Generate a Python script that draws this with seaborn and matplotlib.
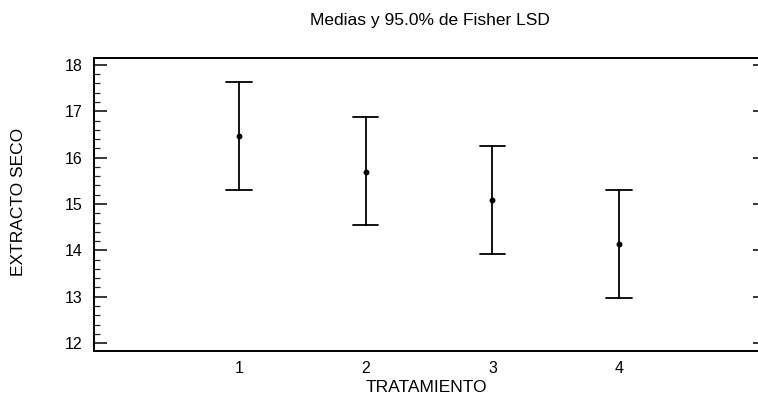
import numpy as np
import pandas as pd
import matplotlib
matplotlib.use("Agg")
import matplotlib.pyplot as plt
import seaborn as sns
from matplotlib.ticker import MultipleLocator

# Data
tratamiento = [1, 2, 3, 4]
medias = [16.47, 15.70, 15.09, 14.13]
lim_inf = [15.31, 14.54, 13.93, 12.97]
lim_sup = [17.64, 16.87, 16.25, 15.30]
y_ticks = [12, 13, 14, 15, 16, 17, 18]

titulo = "Medias y 95.0% de Fisher LSD"
x_label = "TRATAMIENTO"
y_label = "EXTRACTO SECO"

# long-format table: lower limit, mean, upper limit for each treatment
df = pd.DataFrame({
    "TRATAMIENTO": tratamiento * 3,
    "EXTRACTO SECO": lim_inf + medias + lim_sup,
})

sns.set_style("ticks")
plt.rcParams["font.family"] = ["Liberation Sans", "DejaVu Sans"]

W, H = 758, 408
fig = plt.figure(figsize=(W / 100, H / 100), dpi=100)
ax_left, ax_right, ax_top, ax_bottom = 94, 766, 58, 351
ax = fig.add_axes([ax_left / W, 1 - ax_bottom / H,
                   (ax_right - ax_left) / W, (ax_bottom - ax_top) / H])

sns.pointplot(
    data=df, x="TRATAMIENTO", y="EXTRACTO SECO",
    estimator=np.median,
    errorbar=lambda v: (v.min(), v.max()),
    native_scale=True,
    color="black", linestyle="none", marker="o", markersize=2.2,
    capsize=0.2, err_kws={"linewidth": 1.3},
    ax=ax,
)

ax.set_xlim(-0.144, 5.159)
ax.set_ylim(11.83, 18.15)
ax.set_yticks(y_ticks)
ax.yaxis.set_minor_locator(MultipleLocator(0.2))
ax.set_xticks(tratamiento)
ax.set_xticklabels([str(t) for t in tratamiento])

for s in ax.spines.values():
    s.set_linewidth(1.4)
    s.set_color("black")

ax.tick_params(axis="y", which="major", direction="in", length=9.4, width=1.1,
               labelsize=11.5, pad=8.5, right=True, left=True, colors="black")
ax.tick_params(axis="y", which="minor", direction="in", length=4.3, width=0.9,
               left=True, right=False)
ax.tick_params(axis="x", which="both", length=0, labelsize=11.5, pad=7,
               colors="black")

ax.set_xlabel(x_label, fontsize=12.5, color="black")
ax.set_ylabel(y_label, fontsize=12.5, color="black")
ax.xaxis.set_label_coords(0.494, -0.100)
ax.yaxis.set_label_coords(-0.101, 0.51)

fig.text(430 / W, 1 - 20 / H, titulo, ha="center", va="center",
         fontsize=12.5, color="black")

fig.savefig("out.png", dpi=100)
